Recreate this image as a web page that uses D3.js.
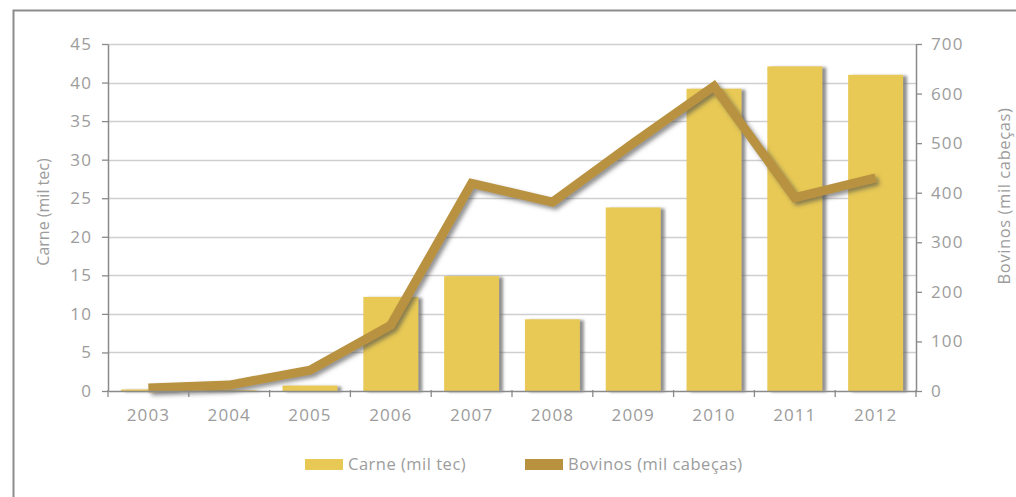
<!DOCTYPE html>
<html>
<head>
<meta charset="utf-8">
<script src="https://cdn.jsdelivr.net/npm/d3@7"></script>
<style>
  html, body { margin: 0; padding: 0; background: #fff; }
  svg { display: block; }
  text { font-family: "Open Sans", "Noto Sans", sans-serif; fill: #9c9c9c; }
</style>
</head>
<body>
<script>
// Production data, 2003–2012
const years = ["2003", "2004", "2005", "2006", "2007", "2008", "2009", "2010", "2011", "2012"];
const carne = [0.2, 0.1, 0.7, 12.2, 14.9, 9.3, 23.8, 39.2, 42.1, 41.0];       // mil tec
const bovinos = [6, 12, 42, 133, 419, 381, 500, 615, 390, 430];               // mil cabeças
const leftTicks = [0, 5, 10, 15, 20, 25, 30, 35, 40, 45];
const rightTicks = [0, 100, 200, 300, 400, 500, 600, 700];

const W = 1016, H = 497;
const plot = { left: 108, right: 916, top: 44, bottom: 391 };
const barColor = "#e8c955";
const lineColor = "#b8923f";
const axisColor = "#8a8a8a";

const svg = d3.select("body").append("svg").attr("width", W).attr("height", H);

// soft drop shadows under the bars and the line
const defs = svg.append("defs");
const fb = defs.append("filter").attr("id", "barShadow")
  .attr("x", "-20%").attr("y", "-5%").attr("width", "150%").attr("height", "115%");
fb.append("feDropShadow").attr("dx", 4).attr("dy", 1).attr("stdDeviation", 1.8)
  .attr("flood-color", "#6a6a6a").attr("flood-opacity", 0.75);
const fl = defs.append("filter").attr("id", "lineShadow")
  .attr("x", "-10%").attr("y", "-10%").attr("width", "130%").attr("height", "130%");
fl.append("feDropShadow").attr("dx", 3).attr("dy", 3).attr("stdDeviation", 2.2)
  .attr("flood-color", "#4a4a4a").attr("flood-opacity", 0.6);

// outer frame
svg.append("path")
  .attr("d", `M13.5,${H + 5} L13.5,10.5 L${W + 5},10.5`)
  .attr("fill", "none").attr("stroke", "#8c8c8c").attr("stroke-width", 2);

const x = d3.scaleBand().domain(years).range([plot.left, plot.right])
  .paddingInner(0.32).paddingOuter(0.16);
const yL = d3.scaleLinear().domain([0, 45]).range([plot.bottom, plot.top]);
const yR = d3.scaleLinear().domain([0, 700]).range([plot.bottom, plot.top]);

// horizontal gridlines
svg.append("g").selectAll("line").data(leftTicks.filter(d => d > 0)).join("line")
  .attr("x1", plot.left).attr("x2", plot.right)
  .attr("y1", d => Math.round(yL(d)) + 0.5).attr("y2", d => Math.round(yL(d)) + 0.5)
  .attr("stroke", "#cfcfcf").attr("stroke-width", 1.3);

// bars
svg.append("g").attr("filter", "url(#barShadow)")
  .selectAll("rect").data(years).join("rect")
  .attr("x", d => x(d))
  .attr("width", x.bandwidth())
  .attr("y", (d, i) => yL(carne[i]))
  .attr("height", (d, i) => plot.bottom - yL(carne[i]))
  .attr("fill", barColor);

// bovinos line
const line = d3.line()
  .x((d, i) => x(years[i]) + x.bandwidth() / 2)
  .y(d => yR(d));
svg.append("path").datum(bovinos)
  .attr("d", line)
  .attr("fill", "none")
  .attr("stroke", lineColor)
  .attr("stroke-width", 9)
  .attr("stroke-linejoin", "miter")
  .attr("filter", "url(#lineShadow)");

// left axis
const axL = svg.append("g").attr("transform", `translate(${plot.left},0)`)
  .call(d3.axisLeft(yL).tickValues(leftTicks).tickSizeInner(6).tickSizeOuter(0).tickPadding(10));
// right axis
const axR = svg.append("g").attr("transform", `translate(${plot.right},0)`)
  .call(d3.axisRight(yR).tickValues(rightTicks).tickSizeInner(6).tickSizeOuter(0).tickPadding(9));
// bottom axis: labels centred on bands, tick marks between bands
const axB = svg.append("g").attr("transform", `translate(0,${plot.bottom})`)
  .call(d3.axisBottom(x).tickSize(0).tickSizeOuter(0).tickPadding(18));
const step = x.step();
const bounds = d3.range(years.length + 1).map(i => plot.left + i * step);
axB.selectAll("line.sep").data(bounds).join("line").attr("class", "sep")
  .attr("x1", d => d).attr("x2", d => d).attr("y1", -1).attr("y2", 6)
  .attr("stroke", axisColor).attr("stroke-width", 1.3);

[axL, axR, axB].forEach(g => {
  g.selectAll(".domain").attr("stroke", axisColor).attr("stroke-width", 1.5);
  g.selectAll(".tick line").attr("stroke", axisColor).attr("stroke-width", 1.3);
  g.selectAll(".tick text")
    .attr("fill", "#9c9c9c")
    .style("font-size", "17px")
    .style("letter-spacing", "1.1px")
    .style("font-family", "'Open Sans', sans-serif");
});

// axis titles
svg.append("text")
  .attr("transform", "translate(49,212) rotate(-90)")
  .attr("text-anchor", "middle")
  .style("font-size", "16px")
  .text("Carne (mil tec)");
svg.append("text")
  .attr("transform", "translate(1010,196) rotate(-90)")
  .attr("text-anchor", "middle")
  .style("font-size", "16.5px")
  .style("letter-spacing", "0.6px")
  .text("Bovinos (mil cabeças)");

// legend
const legend = [
  { label: "Carne (mil tec)", color: barColor, x: 305 },
  { label: "Bovinos (mil cabeças)", color: lineColor, x: 525 }
];
const lg = svg.append("g").selectAll("g").data(legend).join("g")
  .attr("transform", d => `translate(${d.x},459)`);
lg.append("rect").attr("width", 38).attr("height", 11).attr("fill", d => d.color);
lg.append("text").attr("x", 43).attr("y", 11)
  .style("font-size", "16.5px")
  .style("letter-spacing", "0.5px")
  .text(d => d.label);
</script>
</body>
</html>
